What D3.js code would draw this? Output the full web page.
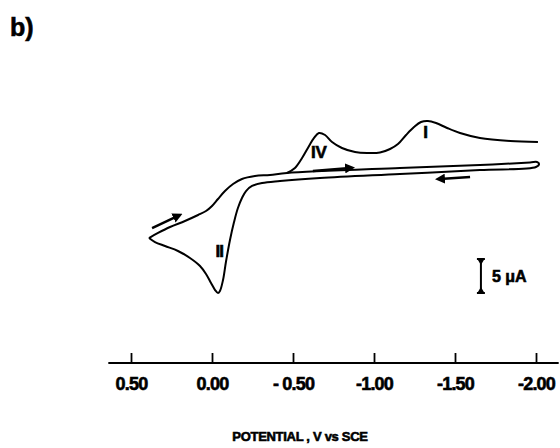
<!DOCTYPE html>
<html>
<head>
<meta charset="utf-8">
<script src="https://cdn.jsdelivr.net/npm/d3@7/dist/d3.min.js"></script>
<style>
body { margin: 0; background: #fff; }
svg text { font-family: "Liberation Sans", Arial, sans-serif; font-weight: bold; fill: #000; stroke: #000; stroke-width: 0.6; }
</style>
</head>
<body>
<div id="chart"></div>
<script>
// potential axis (V vs SCE)
var potentialTicks = [0.5, 0, -0.5, -1.0, -1.5, -2.0];
var tickLabels = ["0.50", "0.00", "- 0.50", "-1.00", "-1.50", "-2.00"];

// [E (V), I (uA)] - the closed loop (forward + reverse scan)
var loopScan = [
  [0.389,-7.06],[0.333,-6.32],[0.259,-5.44],[0.167,-4.56],[0.086,-3.68],[0.037,-3.09],
  [0.000,-2.35],[-0.037,-1.32],[-0.080,-0.15],[-0.130,0.88],[-0.185,1.62],[-0.265,2.06],
  [-0.358,2.21],[-0.463,2.50],[-1.160,3.24],[-1.654,3.68],[-1.963,4.04],[-2.006,4.12],
  [-2.019,3.82],[-2.000,3.38],[-1.654,2.94],[-1.160,2.35],[-0.667,1.76],[-0.420,1.32],
  [-0.309,1.03],[-0.247,0.59],[-0.210,-0.15],[-0.185,-1.18],[-0.160,-2.65],[-0.136,-4.71],
  [-0.111,-7.35],[-0.086,-10.59],[-0.068,-13.24],[-0.049,-14.85],[-0.037,-15.15],
  [-0.019,-14.71],[0.006,-13.68],[0.037,-12.35],[0.074,-11.18],[0.136,-10.0],
  [0.210,-8.97],[0.290,-8.24],[0.352,-7.65],[0.389,-7.06]
];

// branch with reduction peaks IV and I
var peakScan = [
  [-0.463,2.50],[-0.512,3.24],[-0.556,4.71],[-0.599,6.47],[-0.630,7.65],[-0.660,8.38],
  [-0.698,8.09],[-0.741,7.06],[-0.802,6.18],[-0.883,5.59],[-0.957,5.44],[-1.037,5.51],
  [-1.099,6.03],[-1.148,6.76],[-1.198,8.09],[-1.247,9.26],[-1.290,10.0],[-1.333,10.15],
  [-1.383,9.85],[-1.451,9.12],[-1.531,8.38],[-1.654,7.65],[-1.840,7.21],[-2.012,7.06]
];

// scan direction arrows: [E1, I1, E2, I2], head at the second point
var arrows = [
  [0.370, -5.59, 0.210, -3.82],
  [-0.623, 2.79, -0.852, 3.24],
  [-1.593, 1.91, -1.407, 1.62]
];

var peakNames = ["IV", "I", "II"];
var peakE = [-0.66, -1.318, -0.045];
var peakI = [4.7, 7.6, -9.8];

var barE = -1.66, barTop = -10.15, barSize = 5;

var width = 560, height = 448;

var svg = d3.select('#chart').append('svg')
    .attr('width', width).attr('height', height);

var x = d3.scaleLinear().domain([0.5, -2.0]).range([131, 536]);
var y = d3.scaleLinear().domain([-20, 20]).range([326, 54]);

svg.append('defs').append('marker')
    .attr('id', 'head')
    .attr('viewBox', '0 0 10 10')
    .attr('refX', 5).attr('refY', 5)
    .attr('markerWidth', 4).attr('markerHeight', 4)
    .attr('orient', 'auto')
  .append('path')
    .attr('d', 'M0,0 L10,5 L0,10 z')
    .attr('fill', '#000');

var line = d3.line()
    .x(function(d){ return x(d[0]); })
    .y(function(d){ return y(d[1]); })
    .curve(d3.curveCatmullRom.alpha(0.5));

svg.append('path').datum(loopScan)
    .attr('d', line)
    .attr('fill', 'none').attr('stroke', '#000').attr('stroke-width', 2);

svg.append('path').datum(peakScan)
    .attr('d', line)
    .attr('fill', 'none').attr('stroke', '#000').attr('stroke-width', 2);

svg.selectAll('.arrow').data(arrows).enter()
  .append('line')
    .attr('class', 'arrow')
    .attr('x1', function(d){ return x(d[0]); })
    .attr('y1', function(d){ return y(d[1]); })
    .attr('x2', function(d){ return x(d[2]); })
    .attr('y2', function(d){ return y(d[3]); })
    .attr('stroke', '#000').attr('stroke-width', 2.5)
    .attr('marker-end', 'url(#head)');

svg.selectAll('.peak').data(peakNames).enter()
  .append('text')
    .attr('class', 'peak')
    .attr('x', function(d,i){ return x(peakE[i]); })
    .attr('y', function(d,i){ return y(peakI[i]); })
    .attr('text-anchor', 'middle')
    .attr('font-size', 17)
    .attr('letter-spacing', function(d){ return d == "II" ? -1 : 0; })
    .text(function(d){ return d; });

// 5 uA scale bar
var bx = x(barE);
var bar = svg.append('g').attr('stroke', '#000').attr('stroke-width', 2);
bar.append('line')
    .attr('x1', bx).attr('x2', bx)
    .attr('y1', y(barTop)).attr('y2', y(barTop - barSize));
bar.append('line')
    .attr('x1', bx - 4).attr('x2', bx + 4)
    .attr('y1', y(barTop)).attr('y2', y(barTop));
bar.append('line')
    .attr('x1', bx - 4).attr('x2', bx + 4)
    .attr('y1', y(barTop - barSize)).attr('y2', y(barTop - barSize));
svg.append('path')
    .attr('d', 'M' + (bx-3) + ',' + (y(barTop)+1) + 'L' + (bx+3) + ',' + (y(barTop)+1) + 'L' + bx + ',' + (y(barTop)+6) + 'z'
      + 'M' + (bx-3) + ',' + (y(barTop-barSize)-1) + 'L' + (bx+3) + ',' + (y(barTop-barSize)-1) + 'L' + bx + ',' + (y(barTop-barSize)-6) + 'z')
    .attr('fill', '#000');
svg.append('text')
    .attr('x', bx + 11).attr('y', y(barTop - barSize/2) + 6)
    .attr('font-size', 16)
    .text('5 \u03bcA');

// potential axis
var axisY = 363;
svg.append('line')
    .attr('x1', x(0.64)).attr('x2', x(-2.14))
    .attr('y1', axisY).attr('y2', axisY)
    .attr('stroke', '#000').attr('stroke-width', 2);

var axis = d3.axisBottom(x)
    .tickValues(potentialTicks)
    .tickFormat(function(d,i){ return tickLabels[i]; })
    .tickSizeInner(-10).tickSizeOuter(0).tickPadding(14);

var gx = svg.append('g')
    .attr('transform', 'translate(0,' + axisY + ')')
    .call(axis);
gx.select('.domain').remove();
gx.selectAll('.tick line').attr('stroke', '#000').attr('stroke-width', 1.8);
gx.selectAll('.tick text')
    .attr('font-size', 18)
    .attr('font-family', '"Liberation Sans", Arial, sans-serif')
    .attr('font-weight', 'bold')
    .attr('letter-spacing', -0.8)
    .attr('fill', '#000');

svg.append('text')
    .attr('x', 300).attr('y', 441)
    .attr('text-anchor', 'middle')
    .attr('font-size', 13)
    .attr('letter-spacing', -0.3)
    .text('POTENTIAL , V vs SCE');

svg.append('text')
    .attr('x', 10).attr('y', 36)
    .attr('font-size', 25)
    .text('b)');
</script>
</body>
</html>
